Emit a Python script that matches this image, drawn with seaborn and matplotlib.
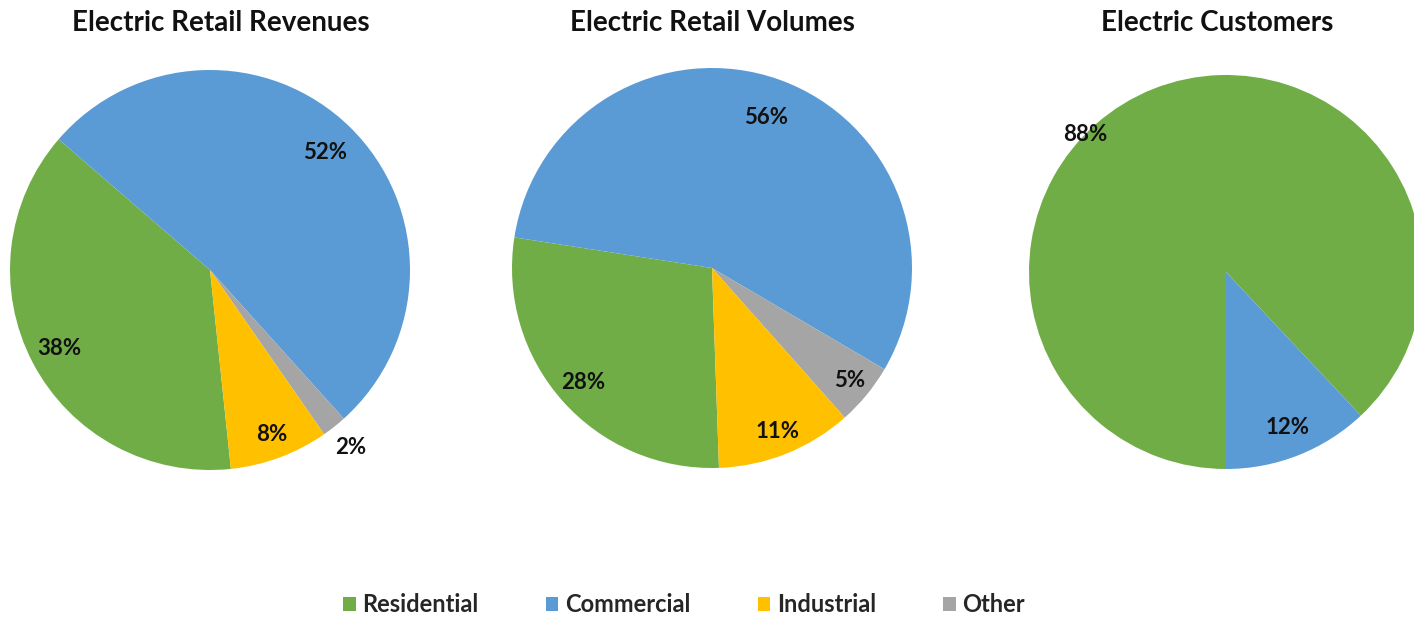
import numpy as np
import matplotlib
matplotlib.use("Agg")
import matplotlib.pyplot as plt
import seaborn as sns
from matplotlib.patches import Patch

# Customer classes and their shares of each electric metric (percent)
categories = ["Residential", "Commercial", "Industrial", "Other"]
titles = ["Electric Retail Revenues", "Electric Retail Volumes", "Electric Customers"]
revenues = [38, 52, 8, 2]
volumes = [28, 56, 11, 5]
customers = [88, 12, 0, 0]

sns.set_theme(style="white")
plt.rcParams["font.family"] = ["Lato", "DejaVu Sans"]

colors = {"Residential": "#70AD47", "Commercial": "#5B9BD5",
          "Industrial": "#FFC000", "Other": "#A5A5A5"}
# slices are laid out clockwise in this order
draw_order = ["Residential", "Commercial", "Other", "Industrial"]

W, H = 1414, 619
fig = plt.figure(figsize=(W / 100, H / 100), dpi=100)

# per-chart layout: centre (px), radius (px), start angle, label radius factors
layouts = [
    dict(cx=210, cy=270, r=200, start=-84,
         lab={"Residential": 0.85, "Commercial": 0.82, "Other": 1.13, "Industrial": 0.88}),
    dict(cx=712, cy=268, r=200, start=-88,
         lab={"Residential": 0.86, "Commercial": 0.80, "Other": 0.89, "Industrial": 0.88}),
    dict(cx=1226, cy=272, r=197, start=-90,
         lab={"Residential": 1.0, "Commercial": 0.85}),
]
# best-fit angle override for the large customer slice label
angle_override = {(2, "Residential"): 135.6}

for i, (title, vals, lay) in enumerate(zip(titles, [revenues, volumes, customers], layouts)):
    lookup = dict(zip(categories, vals))
    names = [c for c in draw_order if lookup[c] > 0]
    sizes = [lookup[c] for c in names]
    cx, cy, r = lay["cx"], lay["cy"], lay["r"]
    ax = fig.add_axes([(cx - r) / W, 1 - (cy + r) / H, 2 * r / W, 2 * r / H])
    wedges, _ = ax.pie(sizes, colors=[colors[c] for c in names], startangle=lay["start"],
                       counterclock=False, radius=1.0,
                       wedgeprops=dict(linewidth=0, antialiased=True))
    ax.set_xlim(-1, 1)
    ax.set_ylim(-1, 1)
    ax.set_aspect("equal")
    ax.axis("off")
    for w, name, v in zip(wedges, names, sizes):
        ang = angle_override.get((i, name), (w.theta1 + w.theta2) / 2)
        rr = lay["lab"][name]
        x = rr * np.cos(np.radians(ang))
        y = rr * np.sin(np.radians(ang))
        ax.text(x, y, f"{v}%", ha="center", va="center", fontsize=16,
                fontweight="bold", color="#111111")

# chart titles
title_x = [221, 712, 1217]
for t, x in zip(titles, title_x):
    fig.text(x / W, 1 - 23 / H, t, ha="center", va="center", fontsize=20,
             fontweight="bold", color="#111111")

handles = [Patch(facecolor=colors[c], edgecolor="none") for c in categories]
fig.legend(handles, categories, loc="center", bbox_to_anchor=(684 / W, 1 - 605 / H),
           ncol=4, frameon=False, prop=dict(weight="bold", size=17),
           handlelength=0.53, handleheight=0.55, handletextpad=0.28, columnspacing=2.85)

fig.savefig("out.png", dpi=100, facecolor="white")
